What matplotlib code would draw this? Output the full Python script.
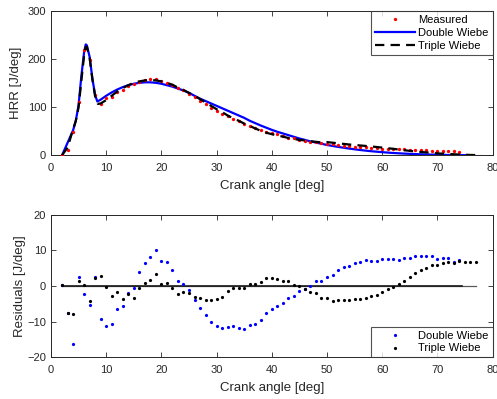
import matplotlib
matplotlib.use("Agg")
import matplotlib.pyplot as plt

plt.rcParams['font.family'] = ['Liberation Sans', 'DejaVu Sans']

# Measured heat release rate [J/deg] at each crank angle [deg]
meas_angle = list(range(2, 75))
meas_hrr = [0, 10.5, 48.5, 112, 219, 199, 125, 107.5, 119, 122,
            132, 136, 144, 149, 153, 157, 159, 159, 154, 151,
            146, 140, 135, 128, 121, 114, 106, 99, 92, 87,
            81, 76, 70.5, 65, 61, 56, 52.5, 49, 46.5, 43.5,
            41, 37, 35, 32, 30.5, 28, 27, 26, 24, 23,
            21.5, 20, 18.7, 18, 17.3, 16.6, 16, 15.2, 13.8, 13,
            12.6, 12.4, 12.2, 11, 11, 11, 10.3, 9.6, 9.6, 9,
            9, 8.3, 7.6]

# Double Wiebe fit
dw_angle = [2, 3, 4, 4.5, 5, 5.5, 6, 6.3, 6.5, 7, 7.5, 8, 8.4, 9, 10, 11, 12, 13, 14, 15,
            16, 17, 18, 19, 20, 21, 22, 23, 24, 25, 26, 27, 28, 29, 30, 31, 32, 33, 34, 35,
            36, 37, 38, 39, 40, 41, 42, 43, 44, 45, 46, 47, 48, 49, 50, 52, 54, 56, 58, 60,
            62, 64, 66, 68, 70, 72, 75]
dw_hrr = [0, 26, 52, 72, 105, 165, 215, 231, 229, 205, 160, 125, 112, 116, 124, 131, 137, 142, 146, 149,
          151, 152, 152, 151, 149, 146, 143, 139, 135, 130, 124, 118, 113, 108, 103, 98, 93, 88, 83, 78,
          72, 67, 62, 57.5, 53, 49, 45.5, 42, 38.5, 35, 32, 29, 26.5, 24, 21.5, 17.5, 14, 11, 8.5, 6.5,
          4.8, 3.5, 2.5, 1.7, 1.1, 0.6, 0.2]

# Triple Wiebe fit
tw_angle = [2, 3, 4, 4.5, 5, 5.5, 6, 6.3, 6.5, 7, 7.5, 8, 8.5, 9, 10, 11, 12, 13, 14, 15,
            16, 17, 18, 19, 20, 21, 22, 23, 24, 25, 26, 27, 28, 29, 30, 31, 32, 33, 34, 35,
            36, 37, 38, 39, 40, 41, 42, 43, 44, 45, 46, 47, 48, 49, 50, 52, 54, 56, 58, 60,
            62, 64, 66, 68, 70, 72, 74, 76, 78]
tw_hrr = [0, 16, 54, 72, 100, 155, 208, 226, 226, 203, 158, 123, 107, 108, 115, 124, 133, 140, 146, 151,
          154, 156, 157, 156, 154, 151, 147, 141, 136, 130, 124, 117, 110, 103, 96, 90, 83, 77, 72, 66,
          61, 56, 51, 47, 44, 41, 39, 36, 34, 32, 31, 29.5, 28, 27, 27.5, 25, 22.5, 20.5, 18.5, 16,
          13.5, 10.5, 8, 6, 4, 2.8, 1.5, 0.7, 0.2]

# Residuals [J/deg]
res_dw_angle = list(range(2, 75))
res_dw = [0.3, -7.6, -16.4, 2.4, -2.3, -5.2, 2.6, -9.2, -11.2, -10.7,
          -6.4, -5.5, -1.9, -0.7, 3.9, 6.4, 8.1, 10.0, 7.0, 6.8,
          4.4, 1.5, 0.6, -1.2, -3.9, -6.1, -8.2, -10.2, -11.1, -11.9,
          -11.4, -11.3, -11.8, -12.0, -10.8, -10.6, -9.4, -7.6, -6.5, -5.5,
          -4.7, -3.3, -2.9, -1.4, -0.8, -0.1, 1.3, 1.4, 2.6, 3.2,
          4.4, 5.2, 5.5, 6.5, 6.7, 7.2, 7.1, 7.0, 7.5, 7.5,
          7.5, 7.4, 7.9, 7.9, 8.3, 8.4, 8.4, 8.3, 7.7, 7.9,
          7.9, 6.7, 7.2]
res_tw_angle = list(range(2, 78))
res_tw = [0.4, -7.7, -7.8, 1.3, 0.4, -4.2, 2.2, 2.9, -0.3, -2.9,
          -1.6, -3.6, -2.3, -3.5, -0.5, 0.8, 1.8, 3.4, 0.6, 0.8,
          -0.6, -2.3, -1.8, -2.0, -3.0, -3.4, -3.8, -4.0, -3.6, -3.1,
          -1.4, -0.5, -0.5, -0.5, 0.7, 0.7, 1.1, 2.2, 2.2, 2.1,
          1.4, 1.4, 0.2, 0.0, -0.8, -1.8, -2.1, -3.5, -3.5, -4.1,
          -3.9, -3.8, -4.0, -3.7, -3.6, -3.3, -2.8, -2.6, -1.6, -0.8,
          -0.3, 0.5, 1.4, 2.5, 3.7, 4.6, 5.1, 5.8, 5.8, 6.4,
          6.7, 6.4, 7.0, 6.8, 6.6, 6.8]

fg = '#262626'
fig = plt.figure(figsize=(4.97, 3.99), dpi=100)
ax1 = fig.add_axes([0.1026, 0.6108, 0.8885, 0.3609])
ax2 = fig.add_axes([0.1026, 0.1045, 0.8885, 0.3574])

# Heat release rate
ax1.plot(meas_angle, meas_hrr, linestyle='none', marker='o', markersize=2.4,
         color='#ff0000', markeredgewidth=0, label='Measured', zorder=4)
ax1.plot(dw_angle, dw_hrr, color='#0000ff', lw=1.6, label='Double Wiebe', zorder=3)
ax1.plot(tw_angle, tw_hrr, color='black', lw=1.6, linestyle=(0, (4.2, 2.8)),
         label='Triple Wiebe', zorder=5)
ax1.set_xlim(0, 80)
ax1.set_ylim(0, 300)
ax1.set_yticks([0, 100, 200, 300])
ax1.set_ylabel('HRR [J/deg]', fontsize=9.5, color=fg, labelpad=4)
ax1.set_xlabel('Crank angle [deg]', fontsize=9.5, color=fg, labelpad=5)
leg1 = ax1.legend(loc='upper right', fontsize=8, frameon=True, fancybox=False,
                  borderaxespad=0, handlelength=3.6, handletextpad=0.3,
                  borderpad=0.35, labelspacing=0.25, numpoints=1)
leg1.get_frame().set_edgecolor(fg)
leg1.get_frame().set_linewidth(0.8)

# Residuals
ax2.plot([res_tw_angle[0], res_tw_angle[-1]], [0, 0], color='0.35', lw=0.9, zorder=1)
ax2.plot([res_dw_angle[0], res_dw_angle[-1] + 0.4], [0, 0], color='0.1', lw=1.2, zorder=1)
ax2.plot(res_dw_angle, res_dw, linestyle='none', marker='o', markersize=2.3,
         color='#0000ff', markeredgewidth=0, label='Double Wiebe', zorder=3)
ax2.plot(res_tw_angle, res_tw, linestyle='none', marker='o', markersize=2.3,
         color='black', markeredgewidth=0, label='Triple Wiebe', zorder=4)
ax2.set_xlim(0, 80)
ax2.set_ylim(-20, 20)
ax2.set_yticks([-20, -10, 0, 10, 20])
ax2.set_ylabel('Residuals [J/deg]', fontsize=9.5, color=fg, labelpad=1)
ax2.set_xlabel('Crank angle [deg]', fontsize=9.5, color=fg, labelpad=5)
leg2 = ax2.legend(loc='lower right', fontsize=8, frameon=True, fancybox=False,
                  borderaxespad=0, handlelength=3.6, handletextpad=0.3,
                  borderpad=0.35, labelspacing=0.25, numpoints=1)
leg2.get_frame().set_edgecolor(fg)
leg2.get_frame().set_linewidth(0.8)

for ax in (ax1, ax2):
    ax.set_xticks(range(0, 81, 10))
    ax.tick_params(direction='in', top=True, right=True, length=3.5, width=0.6,
                   labelsize=8, colors=fg)
    ax.tick_params(axis='x', pad=5.5)
    ax.tick_params(axis='y', pad=3.5)
    for s in ax.spines.values():
        s.set_color(fg)
        s.set_linewidth(0.7)

fig.savefig('out.png', dpi=100)
